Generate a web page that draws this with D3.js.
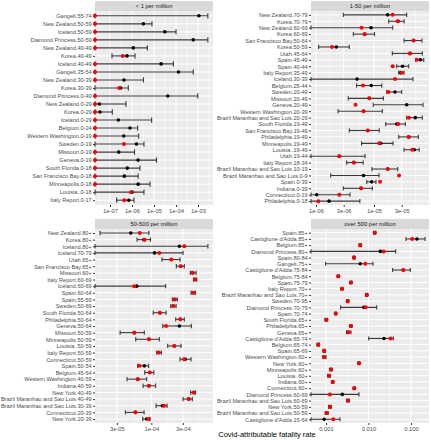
<!DOCTYPE html>
<html><head><meta charset="utf-8">
<script src="https://cdn.jsdelivr.net/npm/d3@7"></script>
<style>body{margin:0;background:#fff}text{font-family:"Liberation Sans",Arial,Helvetica,sans-serif}</style>
</head><body><svg id="c" width="431" height="440"></svg>
<script>
const panelTitles = ["< 1 per million", "1-50 per million", "50-500 per million", "over 500 per million"];
const xTitle = "Covid-attributable fatality rate";

// ---- panel 1: < 1 per million ----
const catsA = ["Gangelt.55-74","New Zealand.50-59","Iceland.50-59","Diamond Princess.50-59","New Zealand.40-49","Korea.40-49","Iceland.40-49","Gangelt.35-54","New Zealand.30-39","Korea.30-39","Diamond Princess.0-49","New Zealand.0-29","Korea.0-29","Iceland.0-29","Belgium.0-24","Western Washington.0-19","Sweden.0-19","Missouri.0-19","Geneva.0-19","South Florida.0-18","San Francisco Bay.0-18","Minneapolis.0-18","Louisia..0-18","Italy Report.0-17"];
const estA = [1.1e-3,3.3e-6,3.1e-5,6.1e-4,1.15e-6,5.9e-7,2.1e-5,1.3e-4,4.3e-7,3.0e-7,4.2e-5,3.3e-8,3.5e-8,2.4e-7,8.1e-7,4.2e-7,1.6e-6,2.5e-7,1.9e-6,6.1e-7,4.5e-7,1.9e-6,1.0e-6,7.1e-7];
const obsA = [0,0,0,0,0,3.8e-7,0,0,0,2.6e-7,0,0,0,0,0,0,4.3e-7,0,0,0,0,0,9.2e-7,4.5e-7];
const loA  = [0,0,0,0,0,1.23e-7,0,0,0,0,0,0,0,0,0,0,0,0,0,0,0,0,0,2.0e-7];
const hiA  = [2.8e-3,8.1e-6,1.0e-4,2.8e-3,5.0e-6,1.37e-6,7.6e-5,6.1e-4,3.3e-6,6.8e-7,9.8e-4,5.3e-7,1.27e-7,7.8e-6,1.8e-6,2.0e-6,3.5e-6,1.3e-6,1.3e-5,2.3e-6,1.9e-6,6.6e-6,3.5e-6,1.23e-6];
const ticksA = [1e-7,1e-6,1e-5,1e-4,1e-3];
const tickLabelsA = ["1e-07","1e-06","1e-05","1e-04","1e-03"];

// ---- panel 2: 1-50 per million ----
const catsB = ["New Zealand.70-79","Korea.70-79","New Zealand.60-69","Korea.60-69","San Francisco Bay.50-64","Korea.50-59","Utah.45-64","Spain.45-49","Spain.40-44","Italy Report.35-49","Iceland.30-39","Belgium.25-44","Sweden.20-49","Missouri.20-49","Geneva.20-49","Western Washington.20-39","Brazil Maranhao and Sao Luis.20-29","South Florida.19-49","San Francisco Bay.19-49","Philadelphia.19-49","Minneapolis.19-49","Louisia..19-49","Utah.19-44","Italy Report.18-34","Brazil Maranhao and Sao Luis.10-19","Brazil Maranhao and Sao Luis.0-9","Spain.0-39","Indiana.0-39","Connecticut.0-19","Philadelphia.0-18"];
const estB = [1.72e-5,2.6e-5,8.9e-6,6.9e-6,4.8e-5,2.24e-6,4.17e-5,6.3e-5,3.1e-5,2.9e-5,5.1e-6,8.98e-6,2.3e-5,8.3e-6,3.66e-5,6.6e-6,5.15e-5,2.46e-5,7.8e-6,3.96e-5,1.3e-5,4.95e-5,2.52e-6,4.5e-6,1.72e-5,6.6e-6,9.1e-6,5.97e-6,1.03e-6,1.68e-6];
const obsB = [2.1e-5,2.56e-5,6.1e-6,6.9e-6,4.8e-5,1.89e-6,4.17e-5,5.5e-5,2.1e-5,3.0e-5,2.3e-5,6.45e-6,1.77e-5,8.3e-6,4.8e-6,6.6e-6,4.0e-5,2.62e-5,7.8e-6,3.96e-5,1.23e-5,4.57e-5,2.52e-6,4.5e-6,1.72e-5,2.7e-5,1.27e-5,5.97e-6,2.52e-6,1.1e-6];
const loB  = [2.96e-6,1.79e-5,0,4.4e-6,3.3e-5,1.11e-6,2.07e-5,5.24e-5,2.46e-5,2.67e-5,0,5.0e-6,1.66e-5,3.6e-6,9.7e-6,2.4e-6,3.66e-5,1.59e-5,3.75e-6,2.67e-5,6.1e-6,3.3e-5,0,3.38e-6,9.2e-6,1.79e-6,7.5e-6,2.96e-6,0,0];
const hiB  = [3.66e-5,3.3e-5,2.1e-5,1.02e-5,6.7e-5,3.75e-6,6.8e-5,7.2e-5,3.96e-5,3.3e-5,4.7e-5,1.36e-5,3.0e-5,1.45e-5,7.0e-5,1.39e-5,6.8e-5,3.47e-5,1.23e-5,5.8e-5,2.13e-5,6.0e-5,7.0e-6,6.5e-6,2.56e-5,1.22e-5,1.08e-5,9.35e-6,3.86e-6,5.7e-6];
const ticksB = [1e-6,3e-6,1e-5,3e-5];
const tickLabelsB = ["1e-06","3e-06","1e-05","3e-05"];

// ---- panel 3: 50-500 per million ----
const catsC = ["New Zealand.80+","Korea.80+","Iceland.80+","Iceland.70-79","Utah.65+","San Francisco Bay.65+","Missouri.60+","Italy Report.60-69","Iceland.60-69","Spain.60-64","Spain.55-59","Sweden.50-69","South Florida.50-64","Philadelphia.50-64","Geneva.50-64","Missouri.50-59","Minneapolis.50-59","Louisia..50-59","Italy Report.50-59","Connecticut.50-59","Spain.50-54","Belgium.45-64","Western Washington.40-59","Indiana.40-59","New York.40-49","Brazil Maranhao and Sao Luis.40-49","Brazil Maranhao and Sao Luis.30-39","Connecticut.20-39","New York.20-39"];
const estC = [4.88e-5,7.7e-5,2.66e-4,1.12e-4,2.01e-4,2.79e-4,4.24e-4,4.59e-4,6.0e-5,4.33e-4,2.26e-4,2.15e-4,1.35e-4,2.75e-4,2.66e-4,5.52e-5,9.2e-5,2.23e-4,1.29e-4,3.27e-4,7.83e-5,9.45e-5,6.22e-5,9.2e-5,4.39e-4,3.69e-4,1.47e-4,5.73e-5,8.5e-5];
const obsC = [6.67e-5,7.9e-5,3.16e-4,1.32e-4,2.01e-4,2.79e-4,4.24e-4,4.59e-4,5.47e-5,4.33e-4,2.26e-4,2.15e-4,1.35e-4,2.75e-4,1.67e-4,5.52e-5,9.2e-5,2.23e-4,1.29e-4,3.13e-4,6.58e-5,9.45e-5,6.22e-5,9.2e-5,4.39e-4,3.69e-4,1.56e-4,5.73e-5,9.1e-5];
const loC  = [1.67e-5,6.07e-5,0,0,1.45e-4,2.39e-4,3.9e-4,4.39e-4,0,4.0e-4,2.08e-4,1.97e-4,1.07e-4,2.34e-4,1.49e-4,3.36e-5,5.8e-5,1.77e-4,1.21e-4,2.72e-4,6.22e-5,7.94e-5,4.28e-5,7.48e-5,3.95e-4,3.02e-4,1.18e-4,4.04e-5,7.41e-5];
const hiC  = [9.2e-5,9.7e-5,7.2e-4,3.02e-4,2.72e-4,3.16e-4,4.76e-4,4.87e-4,1.65e-4,4.64e-4,2.48e-4,2.37e-4,1.67e-4,3.16e-4,4.04e-4,7.83e-5,1.32e-4,2.82e-4,1.42e-4,3.99e-4,9.1e-5,1.09e-4,8.5e-5,1.16e-4,4.64e-4,4.18e-4,1.73e-4,7.76e-5,9.56e-5];
const ticksC = [3e-5,1e-4,3e-4];
const tickLabelsC = ["3e-05","1e-04","3e-04"];

// ---- panel 4: over 500 per million ----
const catsD = ["Spain.85+","Castiglione d'Adda.85+","Belgium.85+","Diamond Princess.80+","Spain.80-84","Gangelt.75+","Castiglione d'Adda.75-84","Belgium.75-84","Spain.75-79","Italy Report.70+","Brazil Maranhao and Sao Luis.70+","Sweden.70-95","Diamond Princess.70-79","Spain.70-74","South Florida.65+","Philadelphia.65+","Geneva.65+","Castiglione d'Adda.65-74","Belgium.65-74","Spain.65-69","Western Washington.60+","New York.60+","Minneapolis.60+","Louisia..60+","Indiana.60+","Connecticut.60+","Diamond Princess.60-69","Brazil Maranhao and Sao Luis.60-69","New York.50-59","Brazil Maranhao and Sao Luis.50-59","Castiglione d'Adda.15-64"];
const estD = [0.0140,0.138,6.4e-3,0.019,4.56e-3,6.4e-3,0.0659,1.95e-3,3.87e-3,2.38e-3,9.1e-3,3.24e-3,7.8e-3,1.69e-3,1.02e-3,3.87e-3,3.29e-3,0.0232,6.6e-4,9.1e-4,9.1e-4,5.98e-3,1.31e-3,1.18e-3,1.44e-3,4.63e-3,2.42e-3,3.29e-3,1.24e-3,1.04e-3,9.1e-4];
const obsD = [0.0140,0.107,6.4e-3,0.0228,4.56e-3,8.4e-3,0.0659,1.95e-3,3.87e-3,2.38e-3,9.1e-3,3.24e-3,8.6e-3,1.69e-3,1.02e-3,3.87e-3,3.42e-3,0.0333,6.6e-4,9.1e-4,9.1e-4,5.98e-3,1.31e-3,1.18e-3,1.44e-3,4.63e-3,1.24e-3,3.29e-3,1.24e-3,1.04e-3,1.49e-3];
const loD  = [0.0133,0.0762,6.05e-3,0,4.35e-3,9.8e-4,0.037,1.85e-3,3.7e-3,2.26e-3,8.6e-3,3.08e-3,2.21e-3,1.61e-3,9.5e-4,3.68e-3,3.07e-3,0.0101,6.2e-4,8.6e-4,8.5e-4,5.7e-3,1.23e-3,1.1e-3,1.36e-3,4.4e-3,0,3.1e-3,1.16e-3,9.6e-4,0];
const hiD  = [0.0148,0.214,6.8e-3,0.0437,4.78e-3,0.01276,0.0963,2.06e-3,4.05e-3,2.5e-3,9.6e-3,3.4e-3,0.0156,1.77e-3,1.09e-3,4.06e-3,3.87e-3,0.0384,7.0e-4,9.6e-4,1.0e-3,6.25e-3,1.39e-3,1.26e-3,1.52e-3,4.85e-3,5.98e-3,3.48e-3,1.32e-3,1.12e-3,2.13e-3];
const ticksD = [0.001,0.01,0.1];
const tickLabelsD = ["0.001","0.010","0.100"];

const panels = [
  {cats: catsA, est: estA, obs: obsA, lo: loA, hi: hiA, ticks: ticksA, labels: tickLabelsA, dom: [2.08e-8, 4.8e-3], x0: 95, y0: 11},
  {cats: catsB, est: estB, obs: obsB, lo: loB, hi: hiB, ticks: ticksB, labels: tickLabelsB, dom: [8.2e-7, 8.87e-5], x0: 311, y0: 11},
  {cats: catsC, est: estC, obs: obsC, lo: loC, hi: hiC, ticks: ticksC, labels: tickLabelsC, dom: [1.40e-5, 8.6e-4], x0: 95, y0: 229},
  {cats: catsD, est: estD, obs: obsD, lo: loD, hi: hiD, ticks: ticksD, labels: tickLabelsD, dom: [4.44e-4, 0.2655], x0: 311, y0: 229}
];
const PW = 118, PH = 194, SH = 10;
const FS = 5.8, FSY = 5.6;
const FONT = "Liberation Sans, Arial, sans-serif";
const svg = d3.select("#c");

panels.forEach((p, i) => {
  const g = svg.append("g").attr("transform", `translate(${p.x0},${p.y0})`);
  const x = d3.scaleLog().domain(p.dom).range([0, PW]).clamp(true);
  const y = d3.scalePoint().domain(p.cats).range([0, PH]).padding(0.6);
  const xp = v => v > 0 ? x(v) : 0;
  // strip
  svg.append("rect").attr("x", p.x0).attr("y", p.y0 - SH).attr("width", PW).attr("height", SH).attr("fill", "#D9D9D9");
  svg.append("text").attr("x", p.x0 + PW / 2).attr("y", p.y0 - SH / 2).attr("dy", "0.35em")
    .attr("text-anchor", "middle").attr("font-size", 5.9).attr("fill", "#1A1A1A").text(panelTitles[i]);
  // panel bg
  g.append("rect").attr("width", PW).attr("height", PH).attr("fill", "#EBEBEB");
  // minor grid
  const lt = p.ticks.map(Math.log10);
  const step0 = lt[1] - lt[0], stepN = lt[lt.length - 1] - lt[lt.length - 2];
  const ext = [lt[0] - step0, ...lt, lt[lt.length - 1] + stepN];
  const ld = p.dom.map(Math.log10);
  const minors = [];
  for (let k = 0; k < ext.length - 1; k++) {
    const m = (ext[k] + ext[k + 1]) / 2;
    if (m > ld[0] && m < ld[1]) minors.push(Math.pow(10, m));
  }
  g.selectAll(".mn").data(minors).join("line").attr("x1", d => x(d)).attr("x2", d => x(d))
    .attr("y1", 0).attr("y2", PH).attr("stroke", "#fff").attr("stroke-width", 0.5);
  g.selectAll(".mj").data(p.ticks).join("line").attr("x1", d => x(d)).attr("x2", d => x(d))
    .attr("y1", 0).attr("y2", PH).attr("stroke", "#fff").attr("stroke-width", 1);
  g.selectAll(".hy").data(p.cats).join("line").attr("x1", 0).attr("x2", PW)
    .attr("y1", d => y(d)).attr("y2", d => y(d)).attr("stroke", "#fff").attr("stroke-width", 1);
  // axes
  const xa = d3.axisBottom(x).tickValues(p.ticks).tickFormat((d, k) => p.labels[k]).tickSize(2).tickPadding(1.5);
  const gx = g.append("g").attr("transform", `translate(0,${PH})`).call(xa);
  gx.select(".domain").remove();
  gx.selectAll("line").attr("stroke", "#333");
  gx.selectAll("text").attr("font-size", FS).attr("fill", "#4D4D4D").attr("font-family", FONT);
  const ya = d3.axisLeft(y).tickSize(2).tickPadding(1.3);
  const gy = g.append("g").call(ya);
  gy.select(".domain").remove();
  gy.selectAll("line").attr("stroke", "#333");
  gy.selectAll("text").attr("font-size", FSY).attr("fill", "#4D4D4D").attr("font-family", FONT);
  // errorbars
  const step = y.step(), cap = step * 0.33;
  const rows = p.cats.map((c, k) => ({c, e: p.est[k], o: p.obs[k], l: p.lo[k], h: p.hi[k]}));
  g.selectAll(".eb").data(rows).join("line").attr("x1", d => xp(d.l)).attr("x2", d => xp(d.h))
    .attr("y1", d => y(d.c)).attr("y2", d => y(d.c)).attr("stroke", "#3a3a3a").attr("stroke-width", 1.1);
  g.selectAll(".cl").data(rows).join("line").attr("x1", d => xp(d.l)).attr("x2", d => xp(d.l))
    .attr("y1", d => y(d.c) - cap).attr("y2", d => y(d.c) + cap).attr("stroke", "#3a3a3a").attr("stroke-width", 1.1);
  g.selectAll(".ch").data(rows).join("line").attr("x1", d => xp(d.h)).attr("x2", d => xp(d.h))
    .attr("y1", d => y(d.c) - cap).attr("y2", d => y(d.c) + cap).attr("stroke", "#3a3a3a").attr("stroke-width", 1.1);
  g.selectAll(".pe").data(rows).join("circle").attr("cx", d => xp(d.e)).attr("cy", d => y(d.c))
    .attr("r", 1.8).attr("fill", "#000");
  g.selectAll(".po").data(rows).join("circle").attr("cx", d => xp(d.o)).attr("cy", d => y(d.c))
    .attr("r", 2.0).attr("fill", "#FF0000");
});

svg.append("text").attr("x", 267).attr("y", 437).attr("text-anchor", "middle")
  .attr("font-size", 7.5).attr("fill", "#000").text(xTitle);
</script></body></html>
